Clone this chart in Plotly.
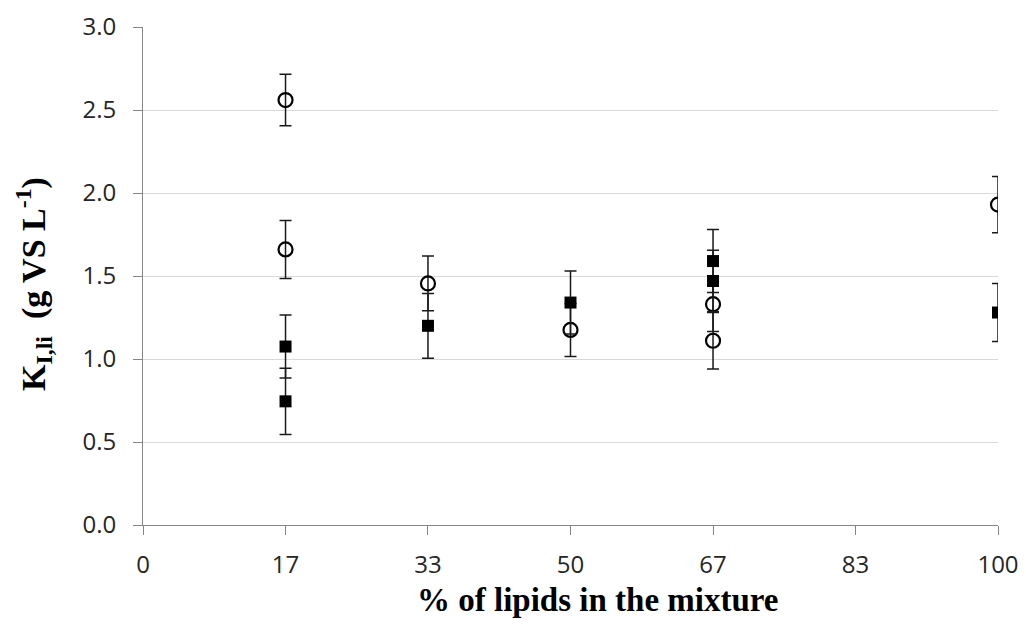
import plotly.graph_objects as go

# x positions (% lipids) and tick labels
x_ticks = [0, 16.67, 33.33, 50, 66.67, 83.33, 100]
x_tick_labels = ["0", "17", "33", "50", "67", "83", "100"]
y_ticks = [0, 0.5, 1.0, 1.5, 2.0, 2.5, 3.0]
y_tick_labels = ["0.0", "0.5", "1.0", "1.5", "2.0", "2.5", "3.0"]

x_title = "<b>% of lipids in the mixture</b>"
y_title = "<b>K<sub>I,li</sub>  (g VS L<sup>-1</sup>)</b>"

# open circles series
circle_x = [16.67, 16.67, 33.33, 50, 66.67, 66.67, 100]
circle_y = [2.56, 1.66, 1.455, 1.175, 1.33, 1.11, 1.93]
circle_err = [0.155, 0.175, 0.165, 0.16, 0.165, 0.17, 0.17]

# filled squares series
square_x = [16.67, 16.67, 33.33, 50, 66.67, 66.67, 100]
square_y = [1.075, 0.745, 1.20, 1.34, 1.59, 1.47, 1.28]
square_err = [0.19, 0.20, 0.195, 0.19, 0.19, 0.185, 0.175]

ERR = dict(type="data", visible=True, color="#1a1a1a", thickness=1.5, width=6)

fig = go.Figure()
fig.add_trace(go.Scatter(
    x=circle_x, y=circle_y, mode="markers",
    error_y=dict(array=circle_err, **ERR),
    marker=dict(symbol="circle-open", size=14, color="black", line=dict(width=2.2, color="black")),
    showlegend=False,
))
fig.add_trace(go.Scatter(
    x=square_x, y=square_y, mode="markers",
    error_y=dict(array=square_err, **ERR),
    marker=dict(symbol="square", size=12, color="black", line=dict(width=0)),
    showlegend=False,
))

fig.update_layout(
    width=1010, height=614,
    margin=dict(l=135, r=20, t=19, b=97, autoexpand=False),
    paper_bgcolor="white", plot_bgcolor="white",
    font=dict(family="Open Sans", size=24, color="#262626"),
    xaxis=dict(
        range=[0, 100], tickmode="array", tickvals=x_ticks, ticktext=x_tick_labels,
        showgrid=False, zeroline=False,
        showline=True, linecolor="#868686", linewidth=1,
        ticks="outside", ticklen=9, tickcolor="#868686", tickwidth=1,
        ticklabelstandoff=9, ticklabeloverflow="allow",
        automargin=False,
    ),
    yaxis=dict(
        range=[0, 3.0], tickmode="array", tickvals=y_ticks, ticktext=y_tick_labels,
        showgrid=True, gridcolor="#d9d9d9", gridwidth=1,
        zeroline=False,
        showline=True, linecolor="#868686", linewidth=1,
        ticks="outside", ticklen=9, tickcolor="#868686", tickwidth=1,
        ticklabelstandoff=12, ticklabeloverflow="allow",
        automargin=False,
    ),
    annotations=[
        dict(text=x_title, xref="paper", yref="paper", x=0.532, y=0,
             xanchor="center", yanchor="middle", yshift=-75, showarrow=False,
             font=dict(family="Liberation Serif", size=33, color="black")),
        dict(text=y_title, xref="paper", yref="paper", x=0, y=0.5,
             xanchor="center", yanchor="middle", xshift=-110, yshift=-8,
             textangle=-90, showarrow=False,
             font=dict(family="Liberation Serif", size=34, color="black")),
    ],
)

fig.write_html("out.html")
